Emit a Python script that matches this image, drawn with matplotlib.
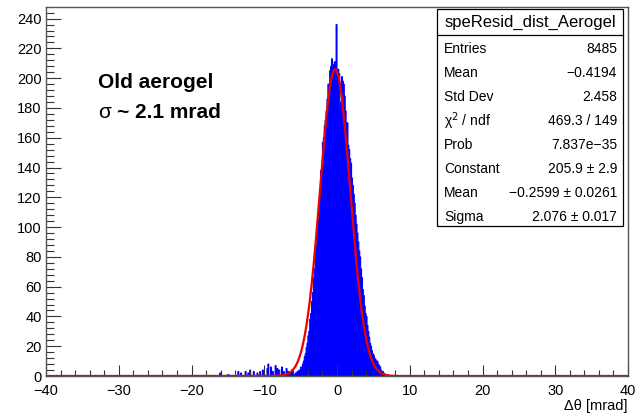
import matplotlib
matplotlib.use("Agg")
import matplotlib.pyplot as plt
import numpy as np
from matplotlib.patches import Rectangle
from matplotlib.ticker import MultipleLocator

plt.rcParams['font.family'] = ['Liberation Sans', 'DejaVu Sans']

# histogram: 640 bins of 0.125 mrad from -40 to 40
x_lo, x_hi, n_bins = -40.0, 40.0, 640
# counts of the core, first bin starts at -6.0 mrad
core_start = -6.0
core_counts = [1, 0, 2, 1, 3, 2, 4, 3, 6, 5, 8, 10, 13, 15, 19, 22,
               27, 30, 38, 42, 50, 56, 66, 72, 83, 88, 98, 104, 116, 122, 138, 142,
               157, 160, 168, 172, 178, 186, 196, 194, 205, 208, 213, 209, 203, 211, 200, 236,
               198, 206, 203, 180, 184, 201, 198, 196, 188, 178, 166, 170, 155, 152, 146, 143,
               133, 128, 122, 116, 108, 102, 96, 90, 84, 80, 72, 66, 58, 54, 47, 42,
               40, 34, 30, 26, 22, 20, 17, 15, 14, 12, 11, 9, 10, 8, 7, 6,
               4, 3, 3, 2, 1, 1, 0, 1]
# scattered entries in the left tail
tail_pos = [-16.1, -15.9, -14.9, -13.6, -13.2, -12.6, -12.2, -11.9, -11.4, -11.0,
            -10.6, -10.2, -9.6, -9.4, -9.1, -8.8, -8.5, -8.2, -7.9, -7.6,
            -7.3, -7.0, -6.7, -6.4, -6.2]
tail_counts = [2, 2, 1, 3, 2, 3, 2, 4, 3, 2,
               3, 4, 5, 8, 6, 3, 7, 5, 4, 6,
               3, 5, 3, 2, 4]

# fit result from the stats box
fit_const, fit_mean, fit_sigma = 205.9, -0.2599, 2.076

stats_title = "speResid_dist_Aerogel"
stats_rows = [("Entries", "8485"),
              ("Mean", "\u22120.4194"),
              ("Std Dev", "2.458"),
              ("\u03c7$^{2}$ / ndf", "469.3 / 149"),
              ("Prob", "7.837e\u221235"),
              ("Constant", "205.9 \u00b1 2.9"),
              ("Mean", "\u22120.2599 \u00b1 0.0261"),
              ("Sigma", "2.076 \u00b1 0.017")]

edges = np.linspace(x_lo, x_hi, n_bins + 1)
bw = (x_hi - x_lo) / n_bins
counts = np.zeros(n_bins)
i0 = int(round((core_start - x_lo) / bw))
counts[i0:i0 + len(core_counts)] = core_counts
for p, c in zip(tail_pos, tail_counts):
    counts[int((p - x_lo) / bw)] += c

W, H = 635, 416
fig = plt.figure(figsize=(6.35, 4.16), dpi=100)
ax = fig.add_axes([46 / W, 1 - 376 / H, 582 / W, 369 / H])

ax.stairs(counts, edges, fill=True, color='#0000ff', linewidth=0)
ax.stairs(counts, edges, color='#0000ff', linewidth=0.8)

xf = np.linspace(x_lo, x_hi, 2000)
ax.plot(xf, fit_const * np.exp(-0.5 * ((xf - fit_mean) / fit_sigma) ** 2),
        color='#ee0000', linewidth=1.6)

ax.set_xlim(x_lo, x_hi)
ax.set_ylim(0, 1.05 * counts.max())

ax.xaxis.set_major_locator(MultipleLocator(10))
ax.xaxis.set_minor_locator(MultipleLocator(2))
ax.yaxis.set_major_locator(MultipleLocator(20))
ax.yaxis.set_minor_locator(MultipleLocator(4))
ax.tick_params(axis='x', which='major', direction='in', length=8, width=0.8,
               labelsize=10.5, pad=5.5, color='#333333')
ax.tick_params(axis='x', which='minor', direction='in', length=4, width=0.8, color='#333333')
ax.tick_params(axis='y', which='major', direction='in', length=11, width=0.8,
               labelsize=10.5, pad=3, color='#333333')
ax.tick_params(axis='y', which='minor', direction='in', length=5.5, width=0.8, color='#333333')
for s in ax.spines.values():
    s.set_color('#555555')
    s.set_linewidth(1.0)

fig.text(628 / W, 1 - 406 / H, "\u0394\u03b8 [mrad]", ha='right', va='center', fontsize=10.5)

# text on the plot
fig.text(98 / W, 1 - 83 / H, "Old aerogel", fontsize=15, fontweight='bold', va='center')
fig.text(98 / W, 1 - 112 / H, "\u03c3", fontsize=15, va='center')
fig.text(117 / W, 1 - 112 / H, "~ 2.1 mrad", fontsize=15, fontweight='bold', va='center')

# stats box
bx0, bx1, by0, by1 = 437, 623, 9, 226
fig.patches.append(Rectangle((bx0 / W, 1 - by1 / H), (bx1 - bx0) / W, (by1 - by0) / H,
                             transform=fig.transFigure, facecolor='white',
                             edgecolor='black', linewidth=0.9, zorder=5))
fig.add_artist(plt.Line2D([bx0 / W, bx1 / W], [1 - 35 / H, 1 - 35 / H],
                          transform=fig.transFigure, color='black', linewidth=0.9, zorder=6))
fig.text((bx0 + bx1) / 2 / W, 1 - 22 / H, stats_title, ha='center', va='center',
         fontsize=12, zorder=7)
for k, (name, val) in enumerate(stats_rows):
    yy = 1 - (49 + 24 * k) / H
    fig.text(444 / W, yy, name, ha='left', va='center', fontsize=10, zorder=7)
    fig.text(617 / W, yy, val, ha='right', va='center', fontsize=10, zorder=7)

fig.savefig("out.png", dpi=100)
